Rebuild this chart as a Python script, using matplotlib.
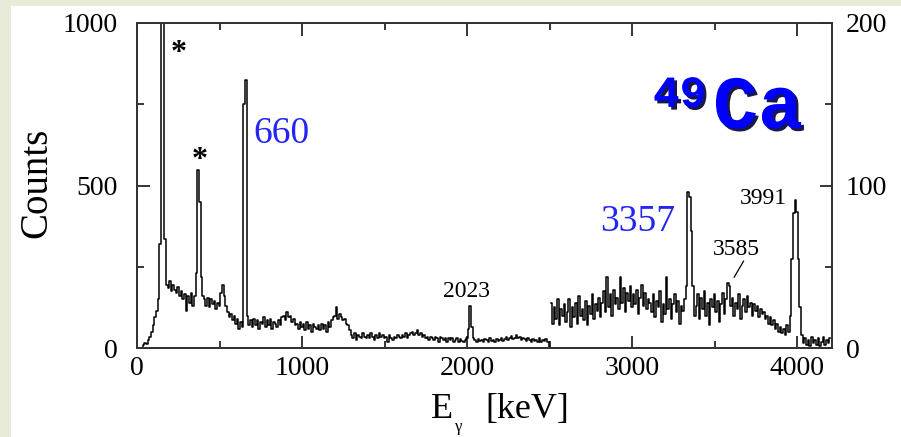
import numpy as np
import matplotlib.pyplot as plt
import matplotlib.patheffects as pe
from matplotlib.patches import Rectangle
from matplotlib.ticker import MultipleLocator

plt.rcParams['font.family'] = ['Liberation Serif', 'DejaVu Serif']

# spectrum, 10 keV bins
bin_kev = 10
# 0 - 2500 keV, left scale (counts)
low_start = 0
counts_low = [
    0, 0, 0, 0, 8, 15, 12, 25, 35, 50,
    70, 95, 115, 150, 320, 1500, 1500, 335, 195, 185,
    205, 175, 195, 180, 170, 188, 160, 175, 150, 165,
    115, 160, 140, 170, 130, 160, 230, 548, 450, 220,
    160, 150, 130, 155, 125, 150, 135, 145, 120, 140,
    130, 170, 195, 160, 130, 110, 95, 105, 85, 100,
    75, 90, 60, 80, 65, 750, 825, 100, 70, 85,
    65, 90, 70, 85, 60, 80, 75, 95, 65, 85,
    70, 90, 60, 80, 75, 65, 85, 70, 95, 100,
    85, 110, 95, 100, 80, 90, 70, 75, 60, 80,
    65, 75, 55, 80, 60, 70, 50, 75, 65, 60,
    70, 55, 75, 60, 70, 50, 80, 65, 85, 95,
    100, 125, 90, 105, 95, 85, 90, 75, 70, 55,
    40, 30, 45, 25, 40, 35, 30, 45, 35, 30,
    40, 30, 45, 35, 25, 40, 30, 45, 35, 40,
    30, 35, 20, 40, 30, 25, 35, 30, 40, 35,
    30, 40, 35, 45, 30, 40, 45, 50, 40, 45,
    55, 40, 45, 35, 40, 30, 35, 25, 35, 30,
    25, 35, 30, 20, 35, 30, 25, 30, 20, 30,
    25, 30, 20, 25, 30, 20, 28, 22, 18, 25,
    30, 60, 129, 65, 30, 25, 20, 28, 22, 25,
    20, 28, 25, 18, 30, 22, 25, 20, 28, 22,
    25, 30, 22, 28, 35, 25, 30, 38, 28, 32,
    40, 30, 35, 25, 32, 28, 22, 30, 25, 20,
    28, 22, 25, 18, 30, 20, 25, 22, 28, 20,
    0,
]
# 2510 - 4200 keV, right scale (counts)
high_start = 2510
counts_high = [
    28, 15, 25, 18, 30, 14, 24, 20, 27, 16,
    22, 30, 13, 25, 19, 28, 15, 32, 20, 24,
    17, 29, 14, 26, 21, 33, 18, 27, 23, 31,
    19, 28, 35, 22, 44, 25, 33, 20, 36, 27,
    31, 24, 44, 28, 37, 22, 34, 29, 38, 25,
    33, 27, 36, 21, 31, 39, 26, 34, 24, 30,
    28, 22, 33, 19, 29, 25, 35, 16, 27, 21,
    44, 24, 30, 18, 27, 33, 22, 29, 15, 26,
    23, 30, 38, 96, 93, 72, 38, 20, 26, 33,
    18, 31, 24, 35, 20, 28, 14, 30, 25, 33,
    22, 29, 16, 27, 34, 21, 30, 40, 38, 26,
    31, 20, 28, 24, 33, 18, 26, 30, 22, 32,
    25, 28, 20, 27, 23, 26, 19, 24, 21, 22,
    18, 20, 15, 19, 14, 17, 12, 15, 10, 13,
    9, 12, 8, 14, 10, 20, 55, 83, 91, 84,
    55, 25, 8, 3, 6, 2, 5, 1, 7, 3,
    5, 2, 6, 1, 4, 7, 2, 5, 3, 6,
]

e_low = low_start + bin_kev * np.arange(len(counts_low))
e_high = high_start + bin_kev * np.arange(len(counts_high))

fig = plt.figure(figsize=(9.01, 4.37), dpi=100)
fig.patch.set_facecolor('#e7ebd8')
fig.patches.append(Rectangle((11 / 901, 0), 1, 1 - 6 / 437, transform=fig.transFigure,
                             facecolor='white', edgecolor='none', zorder=-10))

ax = fig.add_axes([137 / 901, 1 - 348 / 437, 695 / 901, 325 / 437])
ax2 = ax.twinx()

ax.plot(e_low, counts_low, drawstyle='steps-mid', color='black', lw=1.1)
ax2.plot(e_high, counts_high, drawstyle='steps-mid', color='black', lw=1.1)

ax.set_xlim(0, 4212)
ax.set_ylim(0, 1000)
ax2.set_ylim(0, 200)

ax.xaxis.set_major_locator(MultipleLocator(1000))
ax.xaxis.set_minor_locator(MultipleLocator(500))
ax.yaxis.set_major_locator(MultipleLocator(500))
ax.yaxis.set_minor_locator(MultipleLocator(250))
ax2.yaxis.set_major_locator(MultipleLocator(100))
ax2.yaxis.set_minor_locator(MultipleLocator(50))

ax.tick_params(axis='x', which='both', direction='in', top=True, labelsize=20, pad=6)
ax.tick_params(axis='y', which='both', direction='in', labelsize=20, pad=14)
ax2.tick_params(axis='y', which='both', direction='in', labelsize=20, pad=10)
for a in (ax, ax2):
    a.tick_params(which='major', length=9, width=1.1)
    a.tick_params(which='minor', length=5, width=1.1)
    for s in a.spines.values():
        s.set_linewidth(1.3)
        s.set_color('#333333')

# axis labels
fig.text(37 / 901, 1 - 183 / 437, 'Counts', rotation=90, fontsize=28,
         ha='center', va='center')
fig.text(431 / 901, 1 - 418 / 437, 'E', fontsize=26, ha='left', va='baseline')
fig.text(455 / 901, 1 - 431 / 437, 'γ', fontsize=12, ha='left', va='baseline')
fig.text(485 / 901, 1 - 418 / 437, '[keV]', fontsize=26, ha='left', va='baseline')

# peak labels
blue = '#2424f5'
ax.text(703, 631, '660', color=blue, fontsize=27, ha='left', va='baseline')
ax.text(2806, 360, '3357', color=blue, fontsize=27, ha='left', va='baseline')
ax.text(1855, 157, '2023', fontsize=17, ha='left', va='baseline')
ax.text(3655, 443, '3991', fontsize=17, ha='left', va='baseline')
ax.text(3491, 286, '3585', fontsize=17, ha='left', va='baseline')
ax2.annotate('', xy=(3610, 42), xytext=(3685, 55),
             arrowprops=dict(arrowstyle='-', color='black', lw=0.9))
ax.text(255, 905, '*', fontsize=23, fontweight='bold', ha='center', va='center')
ax.text(382, 577, '*', fontsize=23, fontweight='bold', ha='center', va='center')

# nucleus label
shadow = [pe.withSimplePatchShadow(offset=(2, -2), shadow_rgbFace='#000033', alpha=0.9)]
ax.text(3127, 742, '49', family='Liberation Mono', fontweight='bold', fontsize=32,
        color='#0000ff', ha='left', va='baseline', path_effects=shadow)
ax.text(3491, 677, 'Ca', family='Liberation Mono', fontweight='bold', fontsize=54,
        color='#0000ff', ha='left', va='baseline', path_effects=shadow)

fig.savefig('out.png', dpi=100, facecolor=fig.get_facecolor())
